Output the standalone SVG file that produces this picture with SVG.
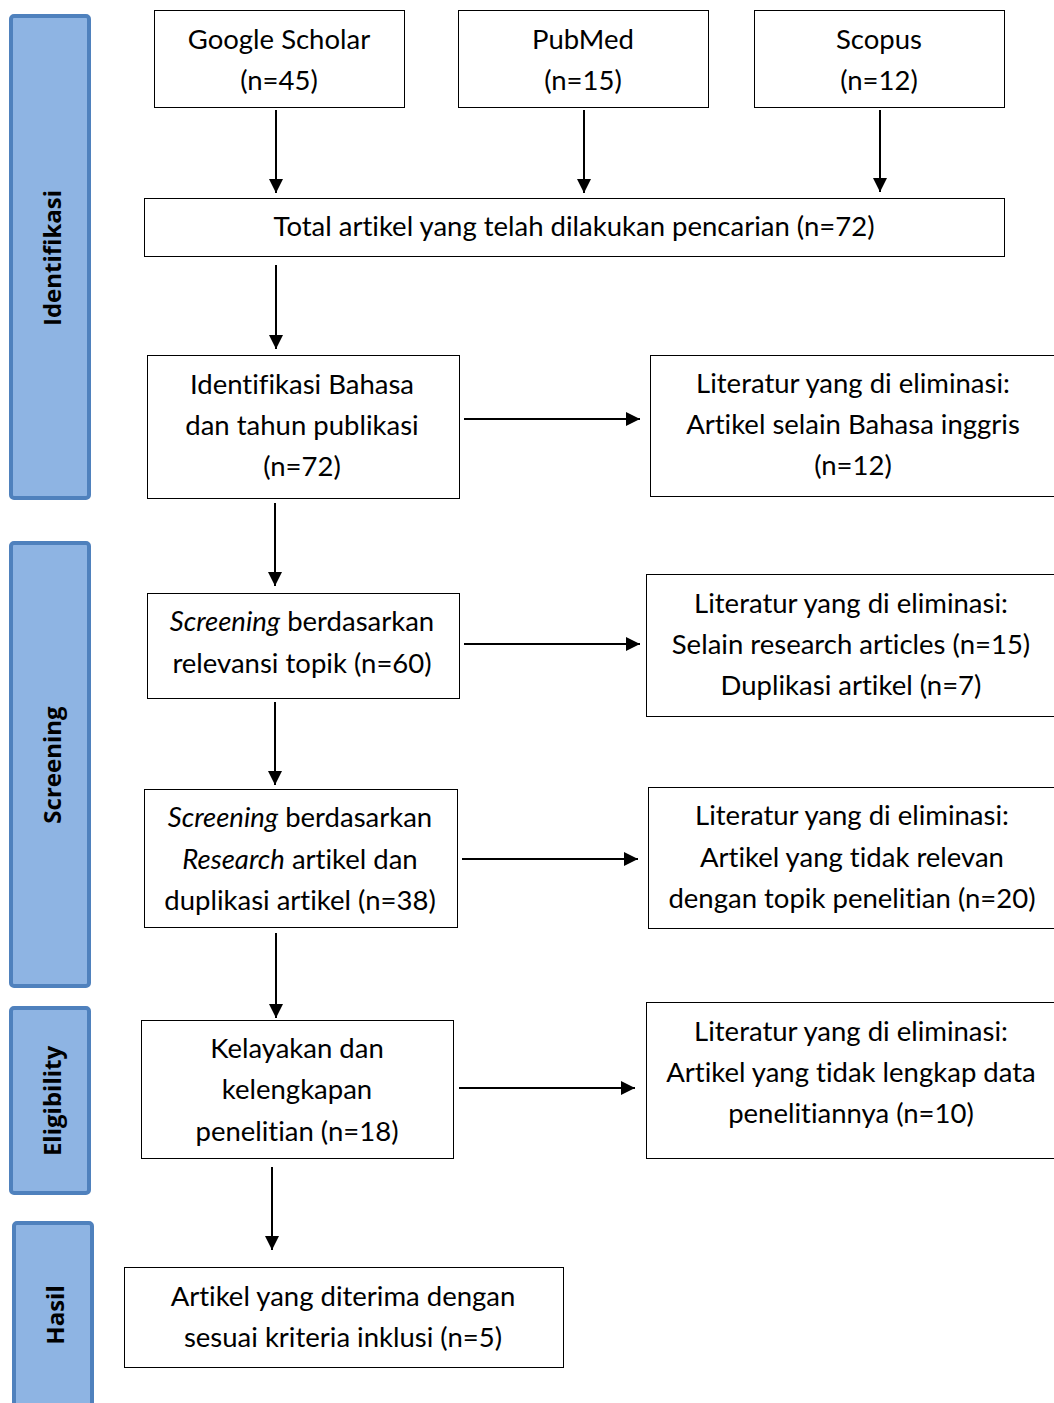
<svg xmlns="http://www.w3.org/2000/svg" width="1054" height="1403" viewBox="0 0 1054 1403">
<style>
.bar{fill:#8EB4E3;stroke:#4F81BD;stroke-width:4}
.bl{font-family:"Open Sans","Noto Sans",sans-serif;font-weight:bold;font-size:24px;fill:#000;text-anchor:middle}
.box{fill:#fff;stroke:#000;stroke-width:1}
.t{font-family:Lato,"Liberation Sans",sans-serif;font-size:27.5px;fill:#000;text-anchor:middle;font-variant-ligatures:none}
.c{stroke:#000;stroke-width:2;fill:none}
</style>
<defs>
<marker id="ah" viewBox="0 0 10 10" refX="10" refY="5" markerWidth="7" markerHeight="7" markerUnits="strokeWidth" orient="auto">
<path d="M0,0 L10,5 L0,10 Z" fill="#000"/>
</marker>
</defs>
<rect width="1054" height="1403" fill="#fff"/>
<g id="bar-identifikasi"><rect class="bar" x="11" y="16" width="78" height="482" rx="3"/><text class="bl" transform="translate(61,258) rotate(-90)">Identifikasi</text></g>
<g id="bar-screening"><rect class="bar" x="11" y="543" width="78" height="443" rx="3"/><text class="bl" transform="translate(61,765) rotate(-90)">Screening</text></g>
<g id="bar-eligibility"><rect class="bar" x="11" y="1008" width="78" height="185" rx="3"/><text class="bl" transform="translate(61,1101) rotate(-90)">Eligibility</text></g>
<g id="bar-hasil"><rect class="bar" x="14" y="1223" width="78" height="200" rx="3"/><text class="bl" transform="translate(64,1315) rotate(-90)">Hasil</text></g>

<g id="n-google"><rect class="box" x="154.5" y="10.5" width="250" height="97"/><text class="t" x="279" y="49">Google Scholar</text><text class="t" x="279" y="90">(n=45)</text></g>
<g id="n-pubmed"><rect class="box" x="458.5" y="10.5" width="250" height="97"/><text class="t" x="583" y="49">PubMed</text><text class="t" x="583" y="90">(n=15)</text></g>
<g id="n-scopus"><rect class="box" x="754.5" y="10.5" width="250" height="97"/><text class="t" x="879" y="49">Scopus</text><text class="t" x="879" y="90">(n=12)</text></g>
<g id="n-total"><rect class="box" x="144.5" y="198.5" width="860" height="58"/><text class="t" x="574" y="236">Total artikel yang telah dilakukan pencarian (n=72)</text></g>
<g id="n-bahasa"><rect class="box" x="147.5" y="355.5" width="312" height="143"/><text class="t" x="302" y="394">Identifikasi Bahasa</text><text class="t" x="302" y="435">dan tahun publikasi</text><text class="t" x="302" y="476">(n=72)</text></g>
<g id="n-elim1"><rect class="box" x="650.5" y="355.5" width="420" height="141"/><text class="t" x="853" y="393">Literatur yang di eliminasi:</text><text class="t" x="853" y="434">Artikel selain Bahasa inggris</text><text class="t" x="853" y="475">(n=12)</text></g>
<g id="n-screen1"><rect class="box" x="147.5" y="593.5" width="312" height="105"/><text class="t" x="302" y="631"><tspan font-style="italic">Screening</tspan> berdasarkan</text><text class="t" x="302" y="673">relevansi topik (n=60)</text></g>
<g id="n-elim2"><rect class="box" x="646.5" y="574.5" width="420" height="142"/><text class="t" x="851" y="613">Literatur yang di eliminasi:</text><text class="t" x="851" y="654">Selain research articles (n=15)</text><text class="t" x="851" y="695">Duplikasi artikel (n=7)</text></g>
<g id="n-screen2"><rect class="box" x="144.5" y="789.5" width="313" height="138"/><text class="t" x="300" y="827"><tspan font-style="italic">Screening</tspan> berdasarkan</text><text class="t" x="300" y="869"><tspan font-style="italic">Research</tspan> artikel dan</text><text class="t" x="300" y="910">duplikasi artikel (n=38)</text></g>
<g id="n-elim3"><rect class="box" x="648.5" y="787.5" width="420" height="141"/><text class="t" x="852" y="825">Literatur yang di eliminasi:</text><text class="t" x="852" y="867">Artikel yang tidak relevan</text><text class="t" x="852" y="908">dengan topik penelitian (n=20)</text></g>
<g id="n-kelayakan"><rect class="box" x="141.5" y="1020.5" width="312" height="138"/><text class="t" x="297" y="1058">Kelayakan dan</text><text class="t" x="297" y="1099">kelengkapan</text><text class="t" x="297" y="1141">penelitian (n=18)</text></g>
<g id="n-elim4"><rect class="box" x="646.5" y="1002.5" width="420" height="156"/><text class="t" x="851" y="1041">Literatur yang di eliminasi:</text><text class="t" x="851" y="1082">Artikel yang tidak lengkap data</text><text class="t" x="851" y="1123">penelitiannya (n=10)</text></g>
<g id="n-final"><rect class="box" x="124.5" y="1267.5" width="439" height="100"/><text class="t" x="343" y="1306">Artikel yang diterima dengan</text><text class="t" x="343" y="1347">sesuai kriteria inklusi (n=5)</text></g>

<g id="connectors">
<line class="c" x1="276" y1="110" x2="276" y2="193" marker-end="url(#ah)"/>
<line class="c" x1="584" y1="110" x2="584" y2="193" marker-end="url(#ah)"/>
<line class="c" x1="880" y1="110" x2="880" y2="192" marker-end="url(#ah)"/>
<line class="c" x1="276" y1="265" x2="276" y2="349" marker-end="url(#ah)"/>
<line class="c" x1="464" y1="419" x2="640" y2="419" marker-end="url(#ah)"/>
<line class="c" x1="275" y1="503" x2="275" y2="586" marker-end="url(#ah)"/>
<line class="c" x1="464" y1="644" x2="640" y2="644" marker-end="url(#ah)"/>
<line class="c" x1="275" y1="702" x2="275" y2="785" marker-end="url(#ah)"/>
<line class="c" x1="462" y1="859" x2="638" y2="859" marker-end="url(#ah)"/>
<line class="c" x1="276" y1="933" x2="276" y2="1018" marker-end="url(#ah)"/>
<line class="c" x1="459" y1="1088" x2="635" y2="1088" marker-end="url(#ah)"/>
<line class="c" x1="272" y1="1167" x2="272" y2="1250" marker-end="url(#ah)"/>
</g>
</svg>
